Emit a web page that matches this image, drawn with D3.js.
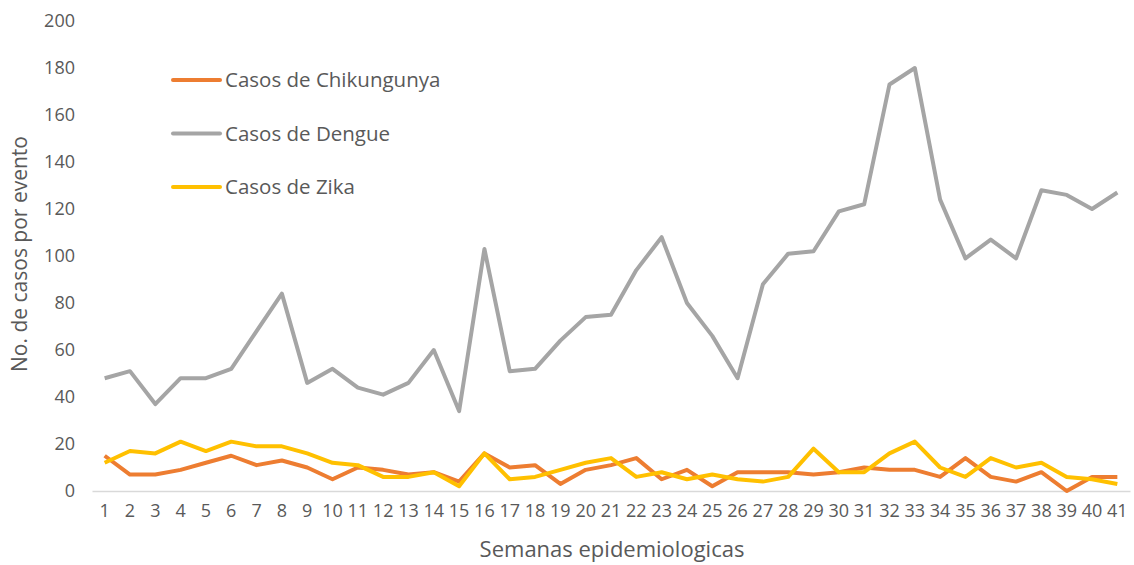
<!DOCTYPE html>
<html>
<head>
<meta charset="utf-8">
<script src="https://cdn.jsdelivr.net/npm/d3@7"></script>
<style>
  body { margin: 0; background: #fff; }
  svg, svg text { font-family: "Open Sans", sans-serif; }
  .tick text { fill: #595959; font-size: 18px; font-family: "Open Sans", sans-serif; }
  .axis-title { fill: #595959; }
  .legend text { fill: #595959; font-size: 20.5px; }
</style>
</head>
<body>
<div id="chart"></div>
<script>
const width = 1134, height = 565;

const weeks = d3.range(1, 42);

const chikungunya = [15, 7, 7, 9, 12, 15, 11, 13, 10, 5, 10, 9, 7, 8, 4, 16, 10, 11, 3, 9,
  11, 14, 5, 9, 2, 8, 8, 8, 7, 8, 10, 9, 9, 6, 14, 6, 4, 8, 0, 6, 6];
const dengue = [48, 51, 37, 48, 48, 52, 68, 84, 46, 52, 44, 41, 46, 60, 34, 103, 51, 52, 64, 74,
  75, 94, 108, 80, 66, 48, 88, 101, 102, 119, 122, 173, 180, 124, 99, 107, 99, 128, 126, 120, 127];
const zika = [12, 17, 16, 21, 17, 21, 19, 19, 16, 12, 11, 6, 6, 8, 2, 16, 5, 6, 9, 12,
  14, 6, 8, 5, 7, 5, 4, 6, 18, 8, 8, 16, 21, 10, 6, 14, 10, 12, 6, 5, 3];

const series = [
  { name: 'Casos de Chikungunya', color: '#ED7D31', values: chikungunya },
  { name: 'Casos de Dengue', color: '#A5A5A5', values: dengue },
  { name: 'Casos de Zika', color: '#FFC000', values: zika }
];

const yTicks = d3.range(0, 201, 20);

const margin = { top: 21, right: 4, bottom: 74, left: 92 };

const x = d3.scaleBand()
  .domain(weeks)
  .range([margin.left, width - margin.right]);

const y = d3.scaleLinear()
  .domain([0, 200])
  .range([height - margin.bottom, margin.top]);

const svg = d3.select('#chart').append('svg')
  .attr('width', width)
  .attr('height', height);

// y axis: labels only, no line
svg.append('g')
  .attr('transform', `translate(${margin.left}, 0)`)
  .call(d3.axisLeft(y).tickValues(yTicks).tickSize(0).tickPadding(17))
  .call(g => g.attr('font-family', null).select('.domain').remove());

// x axis with light baseline
svg.append('g')
  .attr('transform', `translate(0, ${y(0)})`)
  .call(d3.axisBottom(x).tickSize(0).tickPadding(13))
  .call(g => g.attr('font-family', null))
  .call(g => g.select('.domain').attr('stroke', '#d9d9d9').attr('stroke-width', 1.5));

const line = d3.line()
  .x((d, i) => x(weeks[i]) + x.bandwidth() / 2)
  .y(d => y(d));

svg.selectAll('.series')
  .data(series)
  .enter()
  .append('path')
  .attr('class', 'series')
  .attr('fill', 'none')
  .attr('stroke', d => d.color)
  .attr('stroke-width', 4)
  .attr('stroke-linejoin', 'round')
  .attr('d', d => line(d.values));

// legend
const legend = svg.append('g')
  .attr('class', 'legend')
  .attr('transform', 'translate(173, 80)');

const item = legend.selectAll('g')
  .data(series)
  .enter()
  .append('g')
  .attr('transform', (d, i) => `translate(0, ${i * 53.5})`);

item.append('line')
  .attr('x1', 0).attr('x2', 47)
  .attr('stroke', d => d.color)
  .attr('stroke-width', 4)
  .attr('stroke-linecap', 'round');

item.append('text')
  .attr('x', 52)
  .attr('dy', '0.35em')
  .text(d => d.name);

// axis titles
svg.append('text')
  .attr('class', 'axis-title')
  .attr('x', 612)
  .attr('y', 557)
  .attr('text-anchor', 'middle')
  .style('font-size', '22px')
  .text('Semanas epidemiologicas');

svg.append('text')
  .attr('class', 'axis-title')
  .attr('transform', `translate(27, 254) rotate(-90)`)
  .attr('text-anchor', 'middle')
  .style('font-size', '21px')
  .text('No. de casos por evento');
</script>
</body>
</html>
